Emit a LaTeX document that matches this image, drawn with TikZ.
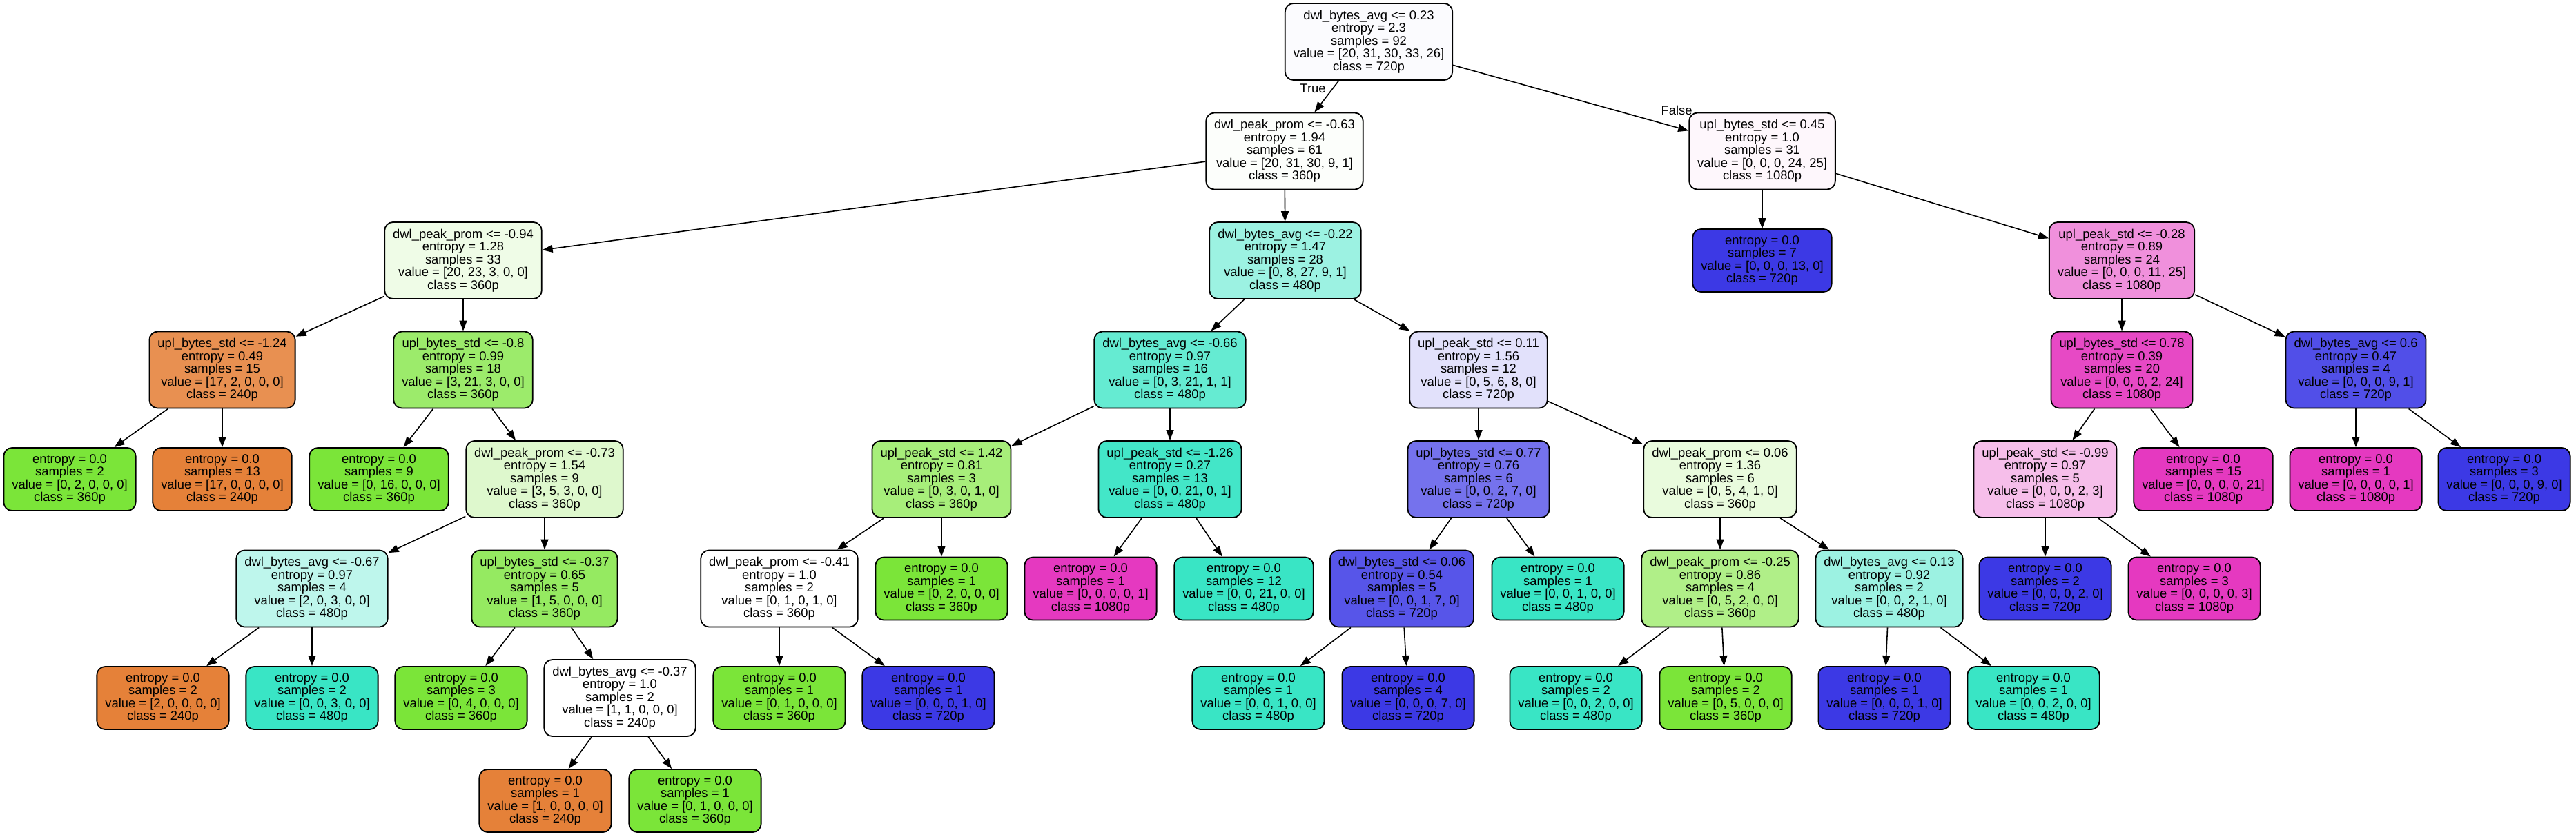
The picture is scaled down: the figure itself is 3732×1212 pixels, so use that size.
\documentclass[tikz,border=0pt]{standalone}
\usepackage{fontspec}
\setmainfont{Liberation Sans}
\usepackage{xcolor}
\usepackage{tikz}
\usetikzlibrary{arrows.meta}

\definecolor{c240}{RGB}{229,129,57}
\definecolor{c360}{RGB}{123,229,57}
\definecolor{c480}{RGB}{57,229,197}
\definecolor{c720}{RGB}{60,57,229}
\definecolor{c1080}{RGB}{229,57,192}

\begin{document}
\begin{tikzpicture}[x=0.5pt, y=-0.5pt,
  font=\fontsize{9.2}{9.25}\selectfont,
  cond/.style={rectangle, draw, line width=0.9pt, rounded corners=6pt,
             align=center, inner xsep=6pt, inner ysep=0pt, minimum height=55.5pt},
  leaf/.style={cond, minimum height=45.5pt},
  link/.style={line width=0.8pt, -{Triangle[length=7.5pt, width=5.5pt]}},
  lbl/.style={inner sep=1pt},
]
\path[use as bounding box, fill=white] (0,0) rectangle (3732,1212);

% ---- rank 0 ----
\node[cond, fill=c720!2] (root) at (1983, 60.5) {dwl\_bytes\_avg <= 0.23\\entropy = 2.3\\samples = 92\\value = [20, 31, 30, 33, 26]\\class = 720p};

% ---- rank 1 ----
\node[cond, fill=c360!2] (l) at (1861, 219) {dwl\_peak\_prom <= -0.63\\entropy = 1.94\\samples = 61\\value = [20, 31, 30, 9, 1]\\class = 360p};
\node[cond, fill=c1080!4] (r) at (2553, 219) {upl\_bytes\_std <= 0.45\\entropy = 1.0\\samples = 31\\value = [0, 0, 0, 24, 25]\\class = 1080p};

% ---- rank 2 ----
\node[cond, fill=c360!12] (ll) at (671, 377.5) {dwl\_peak\_prom <= -0.94\\entropy = 1.28\\samples = 33\\value = [20, 23, 3, 0, 0]\\class = 360p};
\node[cond, fill=c480!50] (lr) at (1862, 377.5) {dwl\_bytes\_avg <= -0.22\\entropy = 1.47\\samples = 28\\value = [0, 8, 27, 9, 1]\\class = 480p};
\node[leaf, fill=c720] (rl) at (2553, 377.5) {entropy = 0.0\\samples = 7\\value = [0, 0, 0, 13, 0]\\class = 720p};
\node[cond, fill=c1080!56] (rr) at (3074, 377.5) {upl\_peak\_std <= -0.28\\entropy = 0.89\\samples = 24\\value = [0, 0, 0, 11, 25]\\class = 1080p};

% ---- rank 3 ----
\node[cond, fill=c240!88] (lll) at (322, 536) {upl\_bytes\_std <= -1.24\\entropy = 0.49\\samples = 15\\value = [17, 2, 0, 0, 0]\\class = 240p};
\node[cond, fill=c360!75] (llr) at (671, 536) {upl\_bytes\_std <= -0.8\\entropy = 0.99\\samples = 18\\value = [3, 21, 3, 0, 0]\\class = 360p};
\node[cond, fill=c480!78] (lrl) at (1695, 536) {dwl\_bytes\_avg <= -0.66\\entropy = 0.97\\samples = 16\\value = [0, 3, 21, 1, 1]\\class = 480p};
\node[cond, fill=c720!15] (lrr) at (2142, 536) {upl\_peak\_std <= 0.11\\entropy = 1.56\\samples = 12\\value = [0, 5, 6, 8, 0]\\class = 720p};
\node[cond, fill=c1080!92] (rrl) at (3074, 536) {upl\_bytes\_std <= 0.78\\entropy = 0.39\\samples = 20\\value = [0, 0, 0, 2, 24]\\class = 1080p};
\node[cond, fill=c720!89] (rrr) at (3413, 536) {dwl\_bytes\_avg <= 0.6\\entropy = 0.47\\samples = 4\\value = [0, 0, 0, 9, 1]\\class = 720p};

% ---- rank 4 ----
\node[leaf, fill=c360] (llll) at (101, 694.5) {entropy = 0.0\\samples = 2\\value = [0, 2, 0, 0, 0]\\class = 360p};
\node[leaf, fill=c240] (lllr) at (322, 694.5) {entropy = 0.0\\samples = 13\\value = [17, 0, 0, 0, 0]\\class = 240p};
\node[leaf, fill=c360] (llrl) at (549, 694.5) {entropy = 0.0\\samples = 9\\value = [0, 16, 0, 0, 0]\\class = 360p};
\node[cond, fill=c360!25] (llrr) at (789, 694.5) {dwl\_peak\_prom <= -0.73\\entropy = 1.54\\samples = 9\\value = [3, 5, 3, 0, 0]\\class = 360p};
\node[cond, fill=c360!67] (lrll) at (1364, 694.5) {upl\_peak\_std <= 1.42\\entropy = 0.81\\samples = 3\\value = [0, 3, 0, 1, 0]\\class = 360p};
\node[cond, fill=c480!95] (lrlr) at (1695, 694.5) {upl\_peak\_std <= -1.26\\entropy = 0.27\\samples = 13\\value = [0, 0, 21, 0, 1]\\class = 480p};
\node[cond, fill=c720!71] (lrrl) at (2142, 694.5) {upl\_bytes\_std <= 0.77\\entropy = 0.76\\samples = 6\\value = [0, 0, 2, 7, 0]\\class = 720p};
\node[cond, fill=c360!17] (lrrr) at (2492, 694.5) {dwl\_peak\_prom <= 0.06\\entropy = 1.36\\samples = 6\\value = [0, 5, 4, 1, 0]\\class = 360p};
\node[cond, fill=c1080!33] (rrll) at (2963, 694.5) {upl\_peak\_std <= -0.99\\entropy = 0.97\\samples = 5\\value = [0, 0, 0, 2, 3]\\class = 1080p};
\node[leaf, fill=c1080] (rrlr) at (3192, 694.5) {entropy = 0.0\\samples = 15\\value = [0, 0, 0, 0, 21]\\class = 1080p};
\node[leaf, fill=c1080] (rrrl) at (3413, 694.5) {entropy = 0.0\\samples = 1\\value = [0, 0, 0, 0, 1]\\class = 1080p};
\node[leaf, fill=c720] (rrrr) at (3628, 694.5) {entropy = 0.0\\samples = 3\\value = [0, 0, 0, 9, 0]\\class = 720p};

% ---- rank 5 ----
\node[cond, fill=c480!33] (llrrl) at (452, 853) {dwl\_bytes\_avg <= -0.67\\entropy = 0.97\\samples = 4\\value = [2, 0, 3, 0, 0]\\class = 480p};
\node[cond, fill=c360!80] (llrrr) at (789, 853) {upl\_bytes\_std <= -0.37\\entropy = 0.65\\samples = 5\\value = [1, 5, 0, 0, 0]\\class = 360p};
\node[cond, fill=white] (lrlll) at (1129, 853) {dwl\_peak\_prom <= -0.41\\entropy = 1.0\\samples = 2\\value = [0, 1, 0, 1, 0]\\class = 360p};
\node[leaf, fill=c360] (lrllr) at (1364, 853) {entropy = 0.0\\samples = 1\\value = [0, 2, 0, 0, 0]\\class = 360p};
\node[leaf, fill=c1080] (lrlrl) at (1580, 853) {entropy = 0.0\\samples = 1\\value = [0, 0, 0, 0, 1]\\class = 1080p};
\node[leaf, fill=c480] (lrlrr) at (1802, 853) {entropy = 0.0\\samples = 12\\value = [0, 0, 21, 0, 0]\\class = 480p};
\node[cond, fill=c720!86] (lrrll) at (2031, 853) {dwl\_bytes\_std <= 0.06\\entropy = 0.54\\samples = 5\\value = [0, 0, 1, 7, 0]\\class = 720p};
\node[leaf, fill=c480] (lrrlr) at (2257, 853) {entropy = 0.0\\samples = 1\\value = [0, 0, 1, 0, 0]\\class = 480p};
\node[cond, fill=c360!60] (lrrrl) at (2492, 853) {dwl\_peak\_prom <= -0.25\\entropy = 0.86\\samples = 4\\value = [0, 5, 2, 0, 0]\\class = 360p};
\node[cond, fill=c480!50] (lrrrr) at (2737, 853) {dwl\_bytes\_avg <= 0.13\\entropy = 0.92\\samples = 2\\value = [0, 0, 2, 1, 0]\\class = 480p};
\node[leaf, fill=c720] (rrlll) at (2963, 853) {entropy = 0.0\\samples = 2\\value = [0, 0, 0, 2, 0]\\class = 720p};
\node[leaf, fill=c1080] (rrllr) at (3179, 853) {entropy = 0.0\\samples = 3\\value = [0, 0, 0, 0, 3]\\class = 1080p};

% ---- rank 6 ----
\node[leaf, fill=c240] (llrrll) at (236, 1011.5) {entropy = 0.0\\samples = 2\\value = [2, 0, 0, 0, 0]\\class = 240p};
\node[leaf, fill=c480] (llrrlr) at (452, 1011.5) {entropy = 0.0\\samples = 2\\value = [0, 0, 3, 0, 0]\\class = 480p};
\node[leaf, fill=c360] (llrrrl) at (668, 1011.5) {entropy = 0.0\\samples = 3\\value = [0, 4, 0, 0, 0]\\class = 360p};
\node[cond, fill=white] (llrrrr) at (898, 1011.5) {dwl\_bytes\_avg <= -0.37\\entropy = 1.0\\samples = 2\\value = [1, 1, 0, 0, 0]\\class = 240p};
\node[leaf, fill=c360] (lrllll) at (1129, 1011.5) {entropy = 0.0\\samples = 1\\value = [0, 1, 0, 0, 0]\\class = 360p};
\node[leaf, fill=c720] (lrlllr) at (1345, 1011.5) {entropy = 0.0\\samples = 1\\value = [0, 0, 0, 1, 0]\\class = 720p};
\node[leaf, fill=c480] (lrrlll) at (1823, 1011.5) {entropy = 0.0\\samples = 1\\value = [0, 0, 1, 0, 0]\\class = 480p};
\node[leaf, fill=c720] (lrrllr) at (2040, 1011.5) {entropy = 0.0\\samples = 4\\value = [0, 0, 0, 7, 0]\\class = 720p};
\node[leaf, fill=c480] (lrrrll) at (2283, 1011.5) {entropy = 0.0\\samples = 2\\value = [0, 0, 2, 0, 0]\\class = 480p};
\node[leaf, fill=c360] (lrrrlr) at (2500, 1011.5) {entropy = 0.0\\samples = 2\\value = [0, 5, 0, 0, 0]\\class = 360p};
\node[leaf, fill=c720] (lrrrrl) at (2730, 1011.5) {entropy = 0.0\\samples = 1\\value = [0, 0, 0, 1, 0]\\class = 720p};
\node[leaf, fill=c480] (lrrrrr) at (2946, 1011.5) {entropy = 0.0\\samples = 1\\value = [0, 0, 2, 0, 0]\\class = 480p};

% ---- rank 7 ----
\node[leaf, fill=c240] (llrrrrl) at (790, 1160.5) {entropy = 0.0\\samples = 1\\value = [1, 0, 0, 0, 0]\\class = 240p};
\node[leaf, fill=c360] (llrrrrr) at (1007, 1160.5) {entropy = 0.0\\samples = 1\\value = [0, 1, 0, 0, 0]\\class = 360p};

% ---- edges ----
\draw[link] (root) -- (l);  \draw[link] (root) -- (r);
\draw[link] (l) -- (ll);    \draw[link] (l) -- (lr);
\draw[link] (r) -- (rl);    \draw[link] (r) -- (rr);
\draw[link] (ll) -- (lll);  \draw[link] (ll) -- (llr);
\draw[link] (lr) -- (lrl);  \draw[link] (lr) -- (lrr);
\draw[link] (rr) -- (rrl);  \draw[link] (rr) -- (rrr);
\draw[link] (lll) -- (llll); \draw[link] (lll) -- (lllr);
\draw[link] (llr) -- (llrl); \draw[link] (llr) -- (llrr);
\draw[link] (lrl) -- (lrll); \draw[link] (lrl) -- (lrlr);
\draw[link] (lrr) -- (lrrl); \draw[link] (lrr) -- (lrrr);
\draw[link] (rrl) -- (rrll); \draw[link] (rrl) -- (rrlr);
\draw[link] (rrr) -- (rrrl); \draw[link] (rrr) -- (rrrr);
\draw[link] (llrr) -- (llrrl); \draw[link] (llrr) -- (llrrr);
\draw[link] (lrll) -- (lrlll); \draw[link] (lrll) -- (lrllr);
\draw[link] (lrlr) -- (lrlrl); \draw[link] (lrlr) -- (lrlrr);
\draw[link] (lrrl) -- (lrrll); \draw[link] (lrrl) -- (lrrlr);
\draw[link] (lrrr) -- (lrrrl); \draw[link] (lrrr) -- (lrrrr);
\draw[link] (rrll) -- (rrlll); \draw[link] (rrll) -- (rrllr);
\draw[link] (llrrl) -- (llrrll); \draw[link] (llrrl) -- (llrrlr);
\draw[link] (llrrr) -- (llrrrl); \draw[link] (llrrr) -- (llrrrr);
\draw[link] (lrlll) -- (lrllll); \draw[link] (lrlll) -- (lrlllr);
\draw[link] (lrrll) -- (lrrlll); \draw[link] (lrrll) -- (lrrllr);
\draw[link] (lrrrl) -- (lrrrll); \draw[link] (lrrrl) -- (lrrrlr);
\draw[link] (lrrrr) -- (lrrrrl); \draw[link] (lrrrr) -- (lrrrrr);
\draw[link] (llrrrr) -- (llrrrrl); \draw[link] (llrrrr) -- (llrrrrr);

% ---- branch labels ----
\node[lbl] (true) at (1902, 128) {True};
\node[lbl] (false) at (2429, 160) {False};

\end{tikzpicture}
\end{document}
